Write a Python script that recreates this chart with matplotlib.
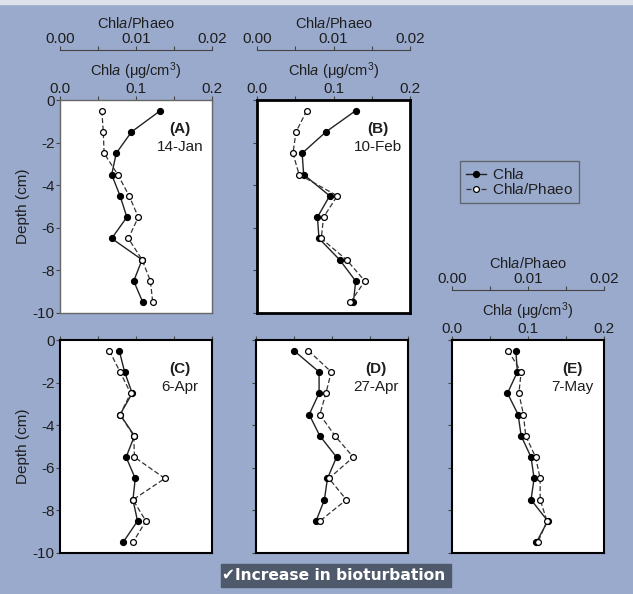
import matplotlib.pyplot as plt
from matplotlib.patches import Rectangle

plt.rcParams['font.family'] = ['Liberation Sans', 'DejaVu Sans']
plt.rcParams['mathtext.fontset'] = 'custom'
plt.rcParams['mathtext.rm'] = 'Liberation Sans'
plt.rcParams['mathtext.it'] = 'Liberation Sans:style=italic'

# depth of each slice (cm)
depth = [-0.5, -1.5, -2.5, -3.5, -4.5, -5.5, -6.5, -7.5, -8.5, -9.5]

panel_ids = ["(A)", "(B)", "(C)", "(D)", "(E)"]
dates = ["14-Jan", "10-Feb", "6-Apr", "27-Apr", "7-May"]

# Chla (ug/cm3)
chla_A = [0.132, 0.094, 0.074, 0.068, 0.079, 0.088, 0.068, 0.108, 0.097, 0.109]
chla_B = [0.129, 0.090, 0.059, 0.061, 0.095, 0.079, 0.081, 0.108, 0.129, 0.126]
chla_C = [0.078, 0.085, 0.095, 0.079, 0.098, 0.087, 0.099, 0.096, 0.102, 0.083]
chla_D = [0.050, 0.083, 0.083, 0.070, 0.084, 0.106, 0.094, 0.090, 0.079]
chla_E = [0.084, 0.086, 0.073, 0.087, 0.091, 0.104, 0.108, 0.104, 0.126, 0.111]

# Chla/Phaeo ratio
ratio_A = [0.0055, 0.0057, 0.0058, 0.0076, 0.0091, 0.0103, 0.0090, 0.0108, 0.0119, 0.0122]
ratio_B = [0.0065, 0.0051, 0.0047, 0.0055, 0.0105, 0.0087, 0.0084, 0.0117, 0.0141, 0.0122]
ratio_C = [0.0065, 0.0079, 0.0093, 0.0079, 0.0097, 0.0098, 0.0138, 0.0096, 0.0113, 0.0096]
ratio_D = [0.0069, 0.0099, 0.0092, 0.0084, 0.0104, 0.0128, 0.0096, 0.0119, 0.0084]
ratio_E = [0.0074, 0.0091, 0.0088, 0.0094, 0.0097, 0.0110, 0.0116, 0.0116, 0.0125, 0.0113]

chla_all = [chla_A, chla_B, chla_C, chla_D, chla_E]
ratio_all = [ratio_A, ratio_B, ratio_C, ratio_D, ratio_E]

W, H = 633, 594
bg = '#9aaacd'
fs = 11
fig = plt.figure(figsize=(W / 100, H / 100), dpi=100, facecolor=bg)

# light strip at the very top
fig.patches.append(Rectangle((0, 1 - 4 / H), 1, 4 / H, transform=fig.transFigure,
                             color='#dde2eb', zorder=0))

# pixel boxes: left, top, width, height
boxes = [(60, 100, 152, 213), (257, 100, 153, 213),
         (60, 340, 152, 213), (256, 340, 152, 213), (452, 340, 152, 213)]
show_top_labels = [True, True, False, False, True]
show_ylabels = [True, False, True, False, False]
edge_w = [1.0, 2.0, 1.5, 1.5, 1.5]
edge_c = ['#666666', 'black', 'black', 'black', 'black']
txt_c = '#1e1e1e'

line_chla = line_ratio = None
for i in range(5):
    l, t, w, h = boxes[i]
    ax = fig.add_axes([l / W, 1 - (t + h) / H, w / W, h / H])
    ax.set_facecolor('white')
    ax.set_xlim(0, 0.2)
    ax.set_ylim(-10, 0)
    d = depth[:len(chla_all[i])]

    tw = ax.twiny()
    tw.set_xlim(0, 0.02)
    lr, = tw.plot(ratio_all[i], d, ls=(0, (4, 2)), color='#333333', lw=0.9,
                  marker='o', ms=4.2, mfc='white', mec='black', mew=0.9)
    lc, = ax.plot(chla_all[i], d, '-', color='#222222', lw=1.0,
                  marker='o', ms=4.2, mfc='black', mec='black')
    ax.set_zorder(1)
    tw.set_zorder(2)
    if line_chla is None:
        line_chla, line_ratio = lc, lr

    for s in ax.spines.values():
        s.set_linewidth(edge_w[i])
        s.set_color(edge_c[i])

    ax.xaxis.tick_top()
    ax.xaxis.set_label_position('top')
    ax.set_xticks([0, 0.05, 0.1, 0.15, 0.2])
    ax.tick_params(axis='x', direction='out', length=3, width=0.8, pad=0,
                   labelsize=fs, colors='#444444', labelcolor=txt_c)
    ax.set_yticks([0, -2, -4, -6, -8, -10])
    ax.tick_params(axis='y', direction='out', length=3, width=0.8, pad=1,
                   labelsize=fs, colors='#444444', labelcolor=txt_c)

    if show_top_labels[i]:
        ax.set_xticklabels(['0.0', '', '0.1', '', '0.2'])
        ax.set_xlabel(r"Chl$\it{a}$ ($\mathregular{\mu}$g/cm$^{3}$)", fontsize=10.5,
                      color=txt_c, labelpad=4)
        tw.spines['top'].set_position(('outward', 36))
        tw.spines['top'].set_color('#444444')
        tw.spines['top'].set_linewidth(0.8)
        tw.set_xticks([0, 0.005, 0.01, 0.015, 0.02])
        tw.set_xticklabels(['0.00', '', '0.01', '', '0.02'])
        tw.tick_params(axis='x', direction='out', length=3, width=0.8, pad=0,
                       labelsize=fs, colors='#444444', labelcolor=txt_c)
        tw.set_xlabel(r"Chl$\it{a}$/Phaeo", fontsize=10.5, color=txt_c, labelpad=3)
    else:
        ax.set_xticklabels([])
        tw.spines['top'].set_visible(False)
        tw.set_xticks([])
    for s in ['left', 'right', 'bottom']:
        tw.spines[s].set_visible(False)

    if show_ylabels[i]:
        ax.set_yticklabels(['0', '-2', '-4', '-6', '-8', '-10'])
        ax.set_ylabel("Depth (cm)", fontsize=fs, color=txt_c, labelpad=2)
    else:
        ax.set_yticklabels([])

    tw.text(0.158, -1.35, panel_ids[i], ha='center', va='center',
            fontsize=fs, weight='bold', color=txt_c, transform=ax.transData)
    tw.text(0.158, -2.2, dates[i], ha='center', va='center',
            fontsize=fs, color=txt_c, transform=ax.transData)

leg = fig.legend([line_chla, line_ratio], [r"Chl$\it{a}$", r"Chl$\it{a}$/Phaeo"],
                 loc='upper left', bbox_to_anchor=(460 / W, 1 - 161 / H),
                 fontsize=fs, frameon=True, fancybox=False, handlelength=1.3,
                 handletextpad=0.4, labelspacing=0.0, borderpad=0.4,
                 borderaxespad=0)
leg.get_frame().set_facecolor('none')
leg.get_frame().set_edgecolor('#555555')
leg.get_frame().set_linewidth(1.0)
for t in leg.get_texts():
    t.set_color(txt_c)

# bottom note
fig.patches.append(Rectangle((221 / W, 1 - 587 / H), 230 / W, 23 / H,
                             transform=fig.transFigure, color='#4f596c', zorder=3))
fig.text(222 / W, 1 - 575.5 / H, "\u2714Increase in bioturbation", color='white',
         fontsize=11.2, weight='bold', family='DejaVu Sans', ha='left', va='center',
         zorder=4)

fig.savefig("out.png", dpi=100, facecolor=bg)
